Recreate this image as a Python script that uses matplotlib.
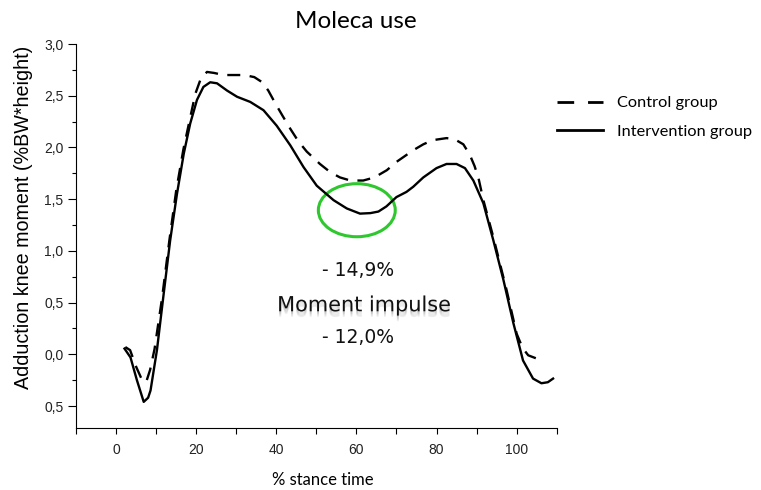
import matplotlib
matplotlib.use("Agg")
import matplotlib.pyplot as plt
import matplotlib.patheffects as pe
from matplotlib.patches import Ellipse
from matplotlib.lines import Line2D
from matplotlib.ticker import MultipleLocator, FixedLocator
import numpy as np

# intervention group (solid)
int_x = [2.1, 3.6, 5.2, 6.9, 8.0, 8.6, 10.2, 11.9, 13.5, 15.2, 16.9, 18.5, 20.2, 21.8,
         23.5, 25.2, 27.7, 30.2, 33.5, 36.8, 40.1, 43.5, 46.8, 50.1, 54.3, 57.6, 60.9,
         63.5, 65.5, 67.5, 70.0, 72.5, 74.2, 76.7, 80.0, 82.5, 85.0, 87.1, 89.2, 91.7,
         94.2, 96.7, 99.2, 101.6, 104.1, 106.2, 107.8, 109.1]
int_y = [0.055, -0.03, -0.25, -0.46, -0.42, -0.35, 0.04, 0.59, 1.10, 1.55, 1.94, 2.23, 2.46, 2.585,
         2.63, 2.62, 2.55, 2.49, 2.44, 2.36, 2.21, 2.02, 1.81, 1.63, 1.49, 1.41, 1.36,
         1.365, 1.38, 1.43, 1.52, 1.57, 1.62, 1.71, 1.80, 1.84, 1.84, 1.80, 1.68, 1.46,
         1.10, 0.72, 0.30, -0.06, -0.235, -0.28, -0.27, -0.235]

# control group (dashed)
ctl_x = [2.3, 3.5, 5.0, 6.5, 7.5, 8.5, 9.6, 11.5, 13.3, 15.0, 16.8, 18.4, 19.8, 21.2,
         22.7, 24.5, 26.8, 29.3, 32.0, 34.5, 36.5, 38.0, 39.7, 41.5, 43.5, 45.5, 47.6,
         50.9, 53.5, 55.9, 58.5, 61.7, 64.5, 67.6, 70.0, 72.6, 74.5, 76.7, 79.0, 82.5,
         84.5, 86.7, 88.3, 89.5, 90.5, 91.7, 94.2, 97.5, 100.0, 101.5, 102.9, 105.6]
ctl_y = [0.07, 0.04, -0.12, -0.25, -0.27, -0.15, 0.05, 0.55, 1.10, 1.58, 1.98, 2.27, 2.52, 2.67,
         2.73, 2.72, 2.70, 2.70, 2.70, 2.68, 2.63, 2.55, 2.43, 2.31, 2.18, 2.06, 1.96,
         1.84, 1.76, 1.71, 1.68, 1.68, 1.71, 1.78, 1.86, 1.93, 1.98, 2.03, 2.07, 2.09,
         2.08, 2.03, 1.93, 1.82, 1.70, 1.49, 1.13, 0.62, 0.20, 0.06, -0.01, -0.05]

yticks = [-0.5, 0.0, 0.5, 1.0, 1.5, 2.0, 2.5, 3.0]
ytick_labels = ["0,5", "0,0", "0,5", "1,0", "1,5", "2,0", "2,5", "3,0"]
xticks = [0, 20, 40, 60, 80, 100]

fig = plt.figure(figsize=(7.61, 4.90), dpi=100)
ax = fig.add_axes([0.0999, 0.1271, 0.6316, 0.7831])

ax.plot(ctl_x, ctl_y, color="black", lw=1.7, dashes=(5.5, 4))
ax.plot(int_x, int_y, color="black", lw=1.7)

ax.add_patch(Ellipse((60.1, 1.393), 19.2, 0.513, fill=False, ec="#2ec82e", lw=2.2))

ax.set_xlim(-10, 110)
ax.set_ylim(-0.71, 3.0)
ax.spines["top"].set_visible(False)
ax.spines["right"].set_visible(False)
for s in ("left", "bottom"):
    ax.spines[s].set_linewidth(0.8)

ax.set_xticks(xticks)
ax.xaxis.set_minor_locator(FixedLocator([-10, 10, 30, 50, 70, 90, 110]))
ax.set_yticks(yticks)
ax.set_yticklabels(ytick_labels)
ax.yaxis.set_minor_locator(MultipleLocator(0.25))
ax.tick_params(axis="y", which="major", direction="out", length=5.5, width=0.8, pad=3.5,
               labelsize=10, labelfontfamily="Liberation Sans", labelcolor="#222222")
ax.tick_params(axis="y", which="minor", direction="out", length=3, width=0.8)
ax.tick_params(axis="x", which="major", direction="out", length=4, width=0.8, pad=7,
               labelsize=10, labelfontfamily="Liberation Sans", labelcolor="#222222")
ax.tick_params(axis="x", which="minor", direction="out", length=4, width=0.8)

# labels
fig.text(356 / 761, 1 - 21 / 490, "Moleca use", ha="center", va="center",
         fontsize=17.5, family="Lato")
fig.text(322.5 / 761, 1 - 480 / 490, "% stance time", ha="center", va="center",
         fontsize=12, family="Lato")
fig.text(23.5 / 761, 1 - 217 / 490, "Adduction knee moment (%BW*height)", rotation=90,
         ha="center", va="center", fontsize=14.2, family="Liberation Sans")

shadow = [pe.SimplePatchShadow(offset=(0, -d), shadow_rgbFace="#777777", alpha=0.13)
          for d in (1, 2, 3, 4)]
ax.text(60.4, 0.81, "- 14,9%", ha="center", va="center", fontsize=13.5, family="DejaVu Sans",
        color="#111111")
ax.text(61.9, 0.474, "Moment impulse", ha="center", va="center", fontsize=15,
        family="DejaVu Sans", color="#111111", path_effects=shadow + [pe.Normal()])
ax.text(60.4, 0.164, "- 12,0%", ha="center", va="center", fontsize=13.5, family="DejaVu Sans",
        color="#111111")

# legend proxies
leg_handles = [Line2D([], [], color="black", lw=2.0, dashes=(6, 5)),
               Line2D([], [], color="black", lw=2.0)]
fig.legend(leg_handles, ["Control group", "Intervention group"], loc="upper left",
           bbox_to_anchor=(557 / 761, 1 - 96 / 490), frameon=False,
           borderpad=0, borderaxespad=0, handlelength=2.8, handletextpad=0.85,
           labelspacing=0.85, prop={"family": "Lato", "size": 11.8})

fig.savefig("out.png", dpi=100)
